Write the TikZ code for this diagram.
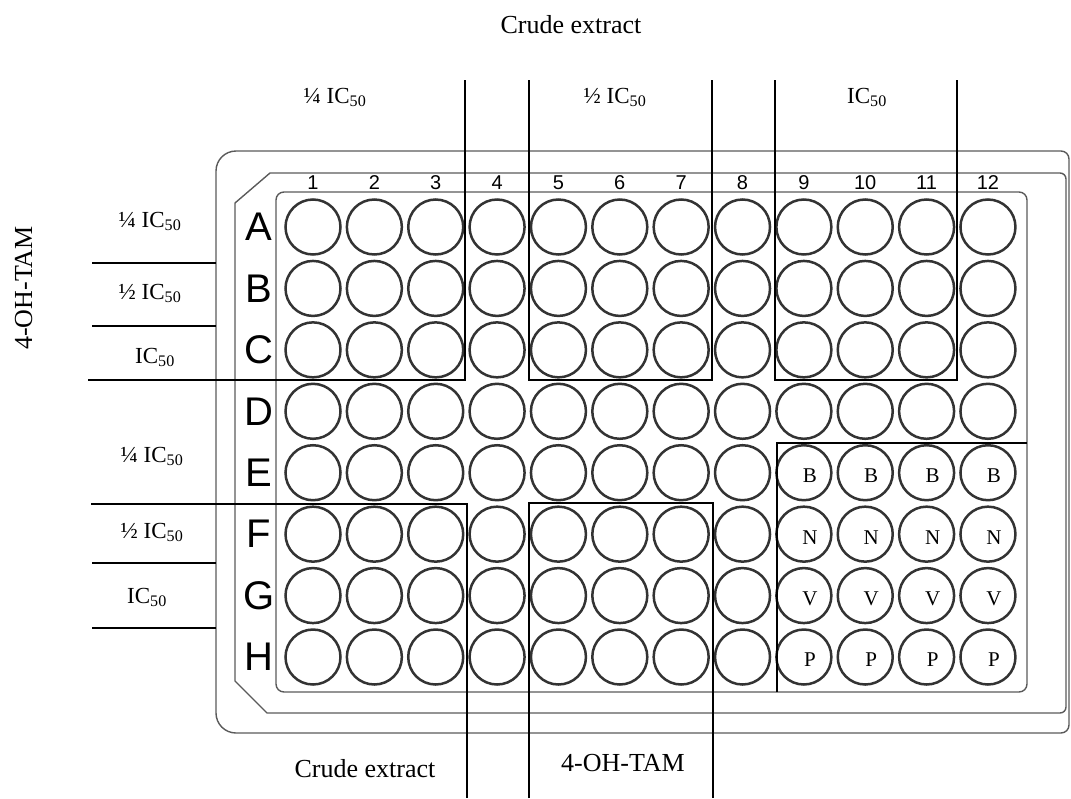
\documentclass[tikz,border=0pt]{standalone}
\usepackage{fontspec}
\setmainfont{Liberation Serif}
\newfontfamily\arialfont{Liberation Sans}
\usepackage{tikz}

\definecolor{welledge}{HTML}{333333}
\definecolor{plategray}{HTML}{5A5A5A}

\begin{document}
\begin{tikzpicture}[
    x=1pt, y=-1pt,
    well/.style={circle, draw=welledge, line width=2.5pt, minimum size=55pt, inner sep=0pt},
    plate/.style={draw=plategray, line width=1.4pt},
    box/.style={draw=black, line width=2pt},
    dose/.style={font=\fontsize{23}{27}\selectfont, anchor=base, inner sep=0pt},
    bigtxt/.style={font=\fontsize{26}{30}\selectfont, anchor=base, inner sep=0pt},
    rowl/.style={font=\arialfont\fontsize{40}{44}\selectfont, inner sep=0pt},
    coll/.style={font=\arialfont\fontsize{20}{22}\selectfont, inner sep=0pt},
    welltag/.style={font=\fontsize{21}{24}\selectfont, inner sep=0pt}
  ]
  \useasboundingbox (0,0) rectangle (1071,798);

  % Plate outlines
  \draw[plate] (216,400) [rounded corners=20] -- (216,151) [rounded corners=8] -- (1069,151)
    -- (1069,733) [rounded corners=20] -- (216,733) -- cycle;
  \draw[plate] (650,713) [sharp corners] -- (267,713) -- (235,681) -- (235,203) -- (270,173)
    [rounded corners=6] -- (1066,173) -- (1066,713) -- cycle;
  \draw[plate, rounded corners=8] (276,192) rectangle (1027,692);

  % Wells and row letters
  \foreach \r [count=\i from 0] in {A,B,C,D,E,F,G,H} {
    \node[rowl] (row\r) at (259, 227+61.43*\i) {\r};
    \foreach \c in {1,...,12}
      \node[well] (\r\c) at (313+61.36*\c-61.36, 227+61.43*\i) {};
  }
  % Column numbers
  \foreach \c in {1,...,12}
    \node[coll] (col\c) at (313+61.36*\c-61.36, 183) {\c};

  % Controls in the corner block
  \foreach \t/\r in {B/E, N/F, V/G, P/H}
    \foreach \c in {9,...,12}
      \node[welltag] (tag\r\c) at ([shift={(6,3)}]\r\c) {\t};

  % Top frames
  \draw[box] (88,380) -- (465,380) -- (465,80);
  \draw[box] (529,80) -- (529,380) -- (712,380) -- (712,80);
  \draw[box] (775,80) -- (775,380) -- (957,380) -- (957,80);
  % Left dividers
  \foreach \y in {263,326,563,628}
    \draw[box] (92,\y) -- (216,\y);
  % Bottom frames
  \draw[box] (91,504) -- (467,504) -- (467,798);
  \draw[box] (529,798) -- (529,503) -- (713,503) -- (713,798);
  \draw[box] (777,692) -- (777,443) -- (1027,443);

  % Top labels
  \node[bigtxt] (crudetop) at (571,33) {Crude extract};
  \node[dose] (topq) at (335,103) {¼ IC\textsubscript{50}};
  \node[dose] (toph) at (615,103) {½ IC\textsubscript{50}};
  \node[dose] (topf) at (867,103) {IC\textsubscript{50}};
  % Left labels
  \node[bigtxt, rotate=90] (tamleft) at (32,288) {4-OH-TAM};
  \node[dose] (leftq1) at (150,227) {¼ IC\textsubscript{50}};
  \node[dose] (lefth1) at (150,299) {½ IC\textsubscript{50}};
  \node[dose] (leftf1) at (155,363) {IC\textsubscript{50}};
  \node[dose] (leftq2) at (152,462) {¼ IC\textsubscript{50}};
  \node[dose] (lefth2) at (152,538) {½ IC\textsubscript{50}};
  \node[dose] (leftf2) at (147,603) {IC\textsubscript{50}};
  % Bottom labels
  \node[bigtxt] (crudebot) at (365,777) {Crude extract};
  \node[bigtxt] (tambot) at (623,771) {4-OH-TAM};
\end{tikzpicture}
\end{document}
